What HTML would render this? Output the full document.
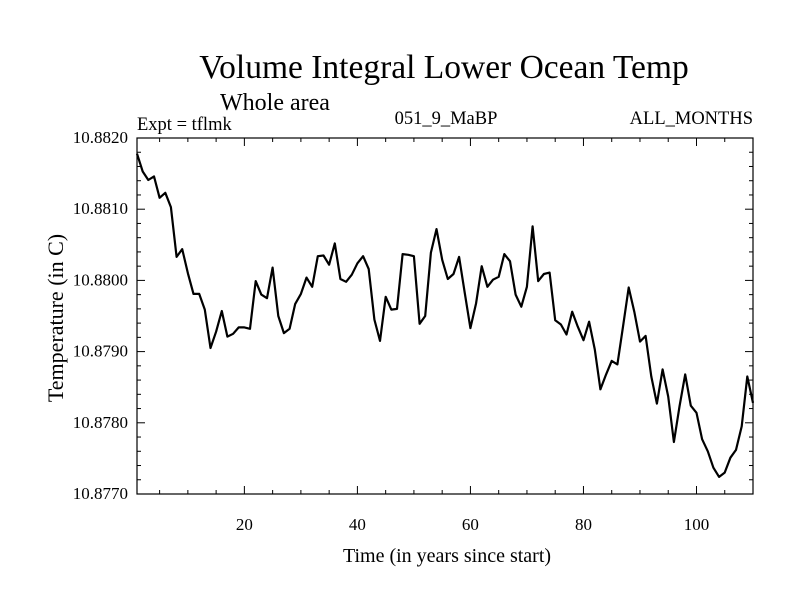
<!DOCTYPE html>
<html><head><meta charset="utf-8"><style>
body{margin:0;background:#fff}
svg text{font-family:"Liberation Serif",serif;fill:#000}
</style></head><body>
<svg id="chart" width="800" height="600" xmlns="http://www.w3.org/2000/svg">
<rect width="800" height="600" fill="#fff"/>
<text x="444" y="78" font-size="33.5" text-anchor="middle">Volume Integral Lower Ocean Temp</text>
<text x="275" y="110" font-size="24" text-anchor="middle">Whole area</text>
<text x="137" y="130" font-size="18.5">Expt = tflmk</text>
<text x="446" y="124" font-size="18.5" text-anchor="middle">051_9_MaBP</text>
<text x="753" y="124" font-size="18.5" text-anchor="end">ALL_MONTHS</text>
<text x="447" y="562" font-size="20" text-anchor="middle">Time (in years since start)</text>
<text transform="translate(63,318) rotate(-90)" font-size="22" text-anchor="middle">Temperature (in C)</text>
<g id="axes"></g>
<polyline id="series" fill="none" stroke="#000" stroke-width="2.2" stroke-linejoin="round"/>
<rect x="137" y="138" width="616" height="356" fill="none" stroke="#000" stroke-width="1.2"/>
</svg>
<script>
const years = Array.from({length:110},(_,i)=>i+1);
const temps = [10.88178,10.88153,10.88141,10.88146,10.88116,10.88123,10.88103,10.88033,10.88044,10.88010,
10.87981,10.87981,10.87959,10.87905,10.87928,10.87957,10.87921,10.87925,10.87934,10.87934,
10.87932,10.87999,10.87980,10.87975,10.88018,10.87950,10.87926,10.87932,10.87967,10.87981,
10.88004,10.87991,10.88034,10.88035,10.88022,10.88052,10.88002,10.87998,10.88008,10.88024,
10.88034,10.88016,10.87945,10.87915,10.87977,10.87959,10.87960,10.88037,10.88036,10.88034,
10.87939,10.87950,10.88039,10.88072,10.88029,10.88002,10.88009,10.88033,10.87982,10.87933,
10.87968,10.88020,10.87991,10.88001,10.88005,10.88037,10.88027,10.87980,10.87963,10.87991,
10.88076,10.87999,10.88009,10.88011,10.87944,10.87938,10.87924,10.87956,10.87935,10.87916,
10.87942,10.87903,10.87847,10.87868,10.87887,10.87882,10.87935,10.87990,10.87956,10.87914,
10.87922,10.87865,10.87827,10.87875,10.87837,10.87773,10.87823,10.87868,10.87824,10.87814,
10.87777,10.87760,10.87737,10.87724,10.87730,10.87751,10.87762,10.87795,10.87865,10.87828];
const xTickLabels = [20,40,60,80,100];
const yTickLabels = ["10.8770","10.8780","10.8790","10.8800","10.8810","10.8820"];
const X0=137,X1=753,Y0=138,Y1=494, xMin=1,xMax=110, yMin=10.8770,yMax=10.8820;
const sx=v=>X0+(v-xMin)/(xMax-xMin)*(X1-X0);
const sy=v=>Y1-(v-yMin)/(yMax-yMin)*(Y1-Y0);
const NS="http://www.w3.org/2000/svg";
const axes=document.getElementById('axes');
function line(x1,y1,x2,y2){const l=document.createElementNS(NS,'line');
l.setAttribute('x1',x1);l.setAttribute('y1',y1);l.setAttribute('x2',x2);l.setAttribute('y2',y2);
l.setAttribute('stroke','#000');l.setAttribute('stroke-width','1');


axes.appendChild(l);}
function txt(x,y,s,anchor,name){const t=document.createElementNS(NS,'text');
t.setAttribute('x',x);t.setAttribute('y',y);t.setAttribute('font-size','17');t.setAttribute('text-anchor',anchor);t.textContent=s;


axes.appendChild(t);}
for(let v=5;v<=110;v+=5){const x=sx(v);const L=(v%20===0)?8:4;line(x,Y1,x,Y1-L);line(x,Y0,x,Y0+L);}
xTickLabels.forEach(v=>txt(sx(v),530,String(v),'middle','x-tick-label'));
for(let k=0;k<=25;k++){const v=yMin+k*0.0002;const y=sy(v);const L=(k%5===0)?8:4;line(X0,y,X0+L,y);line(X1,y,X1-L,y);}
yTickLabels.forEach(s=>txt(128,sy(parseFloat(s))+5,s,'end','y-tick-label'));
document.getElementById('series').setAttribute('points',years.map((y,i)=>sx(y).toFixed(1)+','+sy(temps[i]).toFixed(1)).join(' '));
</script>
</body></html>
